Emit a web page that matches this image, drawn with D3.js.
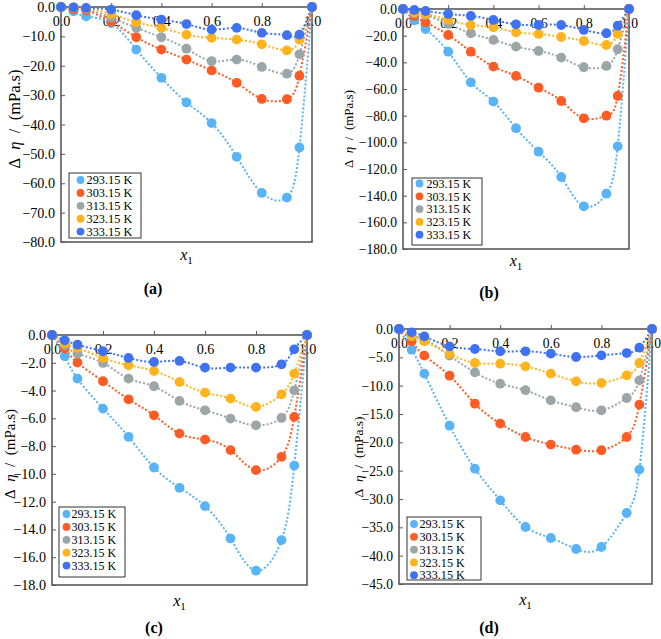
<!DOCTYPE html>
<html><head><meta charset="utf-8">
<script src="https://cdnjs.cloudflare.com/ajax/libs/d3/7.8.5/d3.min.js"></script>
<style>
html,body{margin:0;padding:0;background:#fff;}
svg{display:block;}
</style></head>
<body><svg id="c" width="661" height="639"></svg>
<script>
// ---------- data ----------
const xValues = [0, 0.05, 0.1, 0.2, 0.3, 0.4, 0.5, 0.6, 0.7, 0.8, 0.9, 0.95, 1.0];
const seriesNames = ["293.15 K", "303.15 K", "313.15 K", "323.15 K", "333.15 K"];
const seriesColors = ["#58b4f7", "#ff5b24", "#9ba6a9", "#ffb41e", "#3f72f2"];
const panelLabels = ["(a)", "(b)", "(c)", "(d)"];
const xTicks = [0, 0.2, 0.4, 0.6, 0.8, 1.0];

const dataA = [
  [0, -1.5, -3.2, -5.5, -14.5, -24.1, -32.5, -39.5, -51.0, -63.3, -64.9, -47.8, 0],
  [0, -0.8, -1.2, -5.0, -10.3, -14.5, -17.9, -21.6, -25.8, -31.3, -31.4, -23.4, 0],
  [0, -0.2, -0.6, -3.6, -7.1, -10.3, -14.2, -18.4, -17.9, -20.4, -22.7, -16.1, 0],
  [0, -0.2, -0.3, -2.4, -5.2, -7.1, -9.4, -10.5, -11.1, -12.7, -14.8, -11.1, 0],
  [0, -0.1, -0.3, -0.9, -2.8, -4.3, -5.8, -7.7, -7.1, -8.8, -9.6, -9.4, 0]
];
const dataB = [
  [0, -8.5, -15.0, -32.0, -55.0, -69.4, -89.4, -107.0, -126.0, -148.0, -138.5, -103.0, 0],
  [0, -5.2, -10.0, -19.5, -32.0, -43.2, -50.2, -59.0, -69.0, -82.0, -80.0, -65.2, 0],
  [0, -3.2, -4.5, -11.2, -18.2, -23.2, -28.2, -31.5, -36.4, -43.7, -42.7, -30.2, 0],
  [0, -2.7, -3.7, -8.2, -12.0, -13.7, -17.5, -18.7, -21.0, -24.0, -27.0, -18.7, 0],
  [0, -0.7, -1.5, -3.7, -5.2, -8.2, -11.5, -12.0, -12.0, -15.7, -18.2, -12.5, 0]
];
const dataC = [
  [0, -1.53, -3.14, -5.3, -7.33, -9.54, -11.0, -12.32, -14.65, -16.97, -14.77, -9.4, 0],
  [0, -0.98, -1.99, -3.33, -4.63, -5.78, -7.1, -7.53, -8.29, -9.73, -8.77, -5.9, 0],
  [0, -0.74, -1.34, -2.01, -3.14, -3.69, -4.75, -5.42, -6.02, -6.5, -5.97, -3.98, 0],
  [0, -0.62, -0.93, -1.65, -2.18, -2.59, -3.38, -4.15, -4.58, -5.18, -4.27, -2.78, 0],
  [0, -0.38, -0.7, -1.17, -1.65, -1.94, -1.87, -2.35, -2.35, -2.35, -2.11, -1.03, 0]
];
const dataD = [
  [0, -3.65, -7.88, -17.06, -24.65, -30.24, -34.94, -36.88, -38.82, -38.47, -32.47, -24.82, 0],
  [0, -2.18, -4.7, -8.24, -13.18, -16.7, -19.06, -20.4, -21.3, -21.4, -19.06, -13.35, 0],
  [0, -1.3, -1.8, -4.7, -7.65, -9.65, -10.8, -12.6, -13.8, -14.35, -12.18, -9.06, 0],
  [0, -1.3, -2.18, -4.4, -6.0, -6.12, -6.6, -7.88, -9.24, -9.53, -8.18, -6.0, 0],
  [0, -0.6, -1.3, -3.06, -3.53, -3.94, -3.94, -4.35, -4.94, -4.65, -4.24, -3.3, 0]
];
const yTicksA = d3.range(0, -80.001, -10);
const yTicksB = d3.range(0, -180.001, -20);
const yTicksC = d3.range(0, -18.001, -2);
const yTicksD = d3.range(0, -45.001, -5);

// ---------- layout ----------
const FONT = "'Liberation Serif'";
const panels = [
  {data: dataA, ticks: yTicksA, x0: 61, x1: 312, y0: 7, y1: 242, tfs: 14.2, titleFs: 16.5, titleX: 14, titleY: 119,
   leg: {x: 69, y: 173, w: 72, h: 65, r0: 180, dy: 12.9, mx: 80.5, tx: 86.5, fs: 12.3},
   xlabY: 260, labX: 153, labY: 294},
  {data: dataB, ticks: yTicksB, x0: 403, x1: 629, y0: 9, y1: 249, tfs: 13.6, titleFs: 13, titleX: 348, titleY: 129,
   leg: {x: 412, y: 178, w: 70, h: 67, r0: 183.5, dy: 12.8, mx: 419.5, tx: 426.5, fs: 12},
   xlabY: 266, labX: 489, labY: 298},
  {data: dataC, ticks: yTicksC, x0: 52, x1: 307, y0: 335, y1: 585, tfs: 14.2, titleFs: 15, titleX: 10, titleY: 454,
   leg: {x: 59, y: 507, w: 66, h: 70, r0: 514, dy: 12.9, mx: 66.5, tx: 71.5, fs: 12},
   xlabY: 606, labX: 154, labY: 633},
  {data: dataD, ticks: yTicksD, x0: 399, x1: 652, y0: 329, y1: 584, tfs: 13.6, titleFs: 13.5, titleX: 358, titleY: 457,
   leg: {x: 407, y: 517, w: 74, h: 63, r0: 524, dy: 12.8, mx: 414, tx: 419.5, fs: 12.2},
   xlabY: 605, labX: 489, labY: 633}
];

const svg = d3.select("#c");
svg.append("rect").attr("width", 661).attr("height", 639).attr("fill", "#fff");
const axisColor = "#595959";

panels.forEach((p, pi) => {
  const x = d3.scaleLinear().domain([0, 1]).range([p.x0, p.x1]);
  const y = d3.scaleLinear().domain([0, d3.min(p.ticks)]).range([p.y0, p.y1]);
  const g = svg.append("g");

  const clipId = "clip" + pi;
  g.append("clipPath").attr("id", clipId).append("rect")
    .attr("x", p.x0 - 1).attr("y", p.y0 - 1).attr("width", p.x1 - p.x0 + 2).attr("height", p.y1 - p.y0 + 2);

  // y axis
  const ya = g.append("g").attr("transform", `translate(${p.x0},0)`)
    .call(d3.axisLeft(y).tickValues(p.ticks).tickFormat(d3.format(".1f")).tickSizeInner(-4).tickSizeOuter(0).tickPadding(6));
  ya.select(".domain").remove();
  ya.selectAll("line").attr("stroke", axisColor);
  ya.selectAll("text").style("font-family", FONT).style("font-size", p.tfs + "px").attr("fill", "#000");

  // x axis (at top, labels inside)
  const xa = g.append("g").attr("transform", `translate(0,${p.y0})`)
    .call(d3.axisBottom(x).tickValues(xTicks).tickFormat(d3.format(".1f")).tickSizeInner(-4).tickSizeOuter(0).tickPadding(9));
  xa.select(".domain").remove();
  xa.selectAll("line").attr("stroke", axisColor);
  xa.selectAll("text").style("font-family", FONT).style("font-size", p.tfs + "px").attr("fill", "#000");

  // frame
  g.append("rect").attr("x", p.x0).attr("y", p.y0).attr("width", p.x1 - p.x0).attr("height", p.y1 - p.y0)
    .attr("fill", "none").attr("stroke", axisColor).attr("stroke-width", 1.6);

  // trend lines
  const line = d3.line().x((d, i) => x(xValues[i])).y(d => y(d)).curve(d3.curveNatural);
  const lg = g.append("g").attr("clip-path", `url(#${clipId})`);
  p.data.forEach((s, si) => {
    lg.append("path").attr("d", line(s)).attr("fill", "none")
      .attr("stroke", seriesColors[si]).attr("stroke-width", 2).attr("stroke-dasharray", "2,2");
  });
  // markers
  p.data.forEach((s, si) => {
    g.append("g").selectAll("circle").data(s).join("circle")
      .attr("cx", (d, i) => x(xValues[i])).attr("cy", d => y(d)).attr("r", 4.9)
      .attr("fill", seriesColors[si]);
  });

  // legend
  const L = p.leg;
  const leg = g.append("g");
  leg.append("rect").attr("x", L.x).attr("y", L.y).attr("width", L.w).attr("height", L.h)
    .attr("fill", "#fff").attr("stroke", "#333").attr("stroke-width", 1);
  seriesNames.forEach((n, si) => {
    const cy = L.r0 + si * L.dy;
    leg.append("circle").attr("cx", L.mx).attr("cy", cy).attr("r", 3.9).attr("fill", seriesColors[si]);
    leg.append("text").attr("x", L.tx).attr("y", cy).attr("dy", "0.35em")
      .style("font-family", FONT).style("font-size", L.fs + "px").attr("fill", "#000").text(n);
  });

  // y title
  const t = g.append("text").attr("transform", `translate(${p.titleX},${p.titleY}) rotate(-90)`)
    .attr("text-anchor", "middle").attr("dy", "0.35em")
    .style("font-family", FONT).style("font-size", p.titleFs + "px").attr("fill", "#000");
  t.append("tspan").text("\u0394\u2002");
  t.append("tspan").style("font-style", "italic").text("\u03b7");
  t.append("tspan").text("\u2002/\u2002(mPa.s)");

  // x title
  const xt = g.append("text").attr("x", (p.x0 + p.x1) / 2).attr("y", p.xlabY)
    .attr("text-anchor", "middle").style("font-family", FONT).style("font-size", "16px").attr("fill", "#000");
  xt.append("tspan").style("font-style", "italic").text("x");
  xt.append("tspan").style("font-size", "11px").attr("dy", 4).text("1");

  // panel label
  g.append("text").attr("x", p.labX).attr("y", p.labY).attr("text-anchor", "middle")
    .style("font-family", FONT).style("font-size", "16px").style("font-weight", "bold")
    .attr("fill", "#000").text(panelLabels[pi]);
});
</script></body></html>
